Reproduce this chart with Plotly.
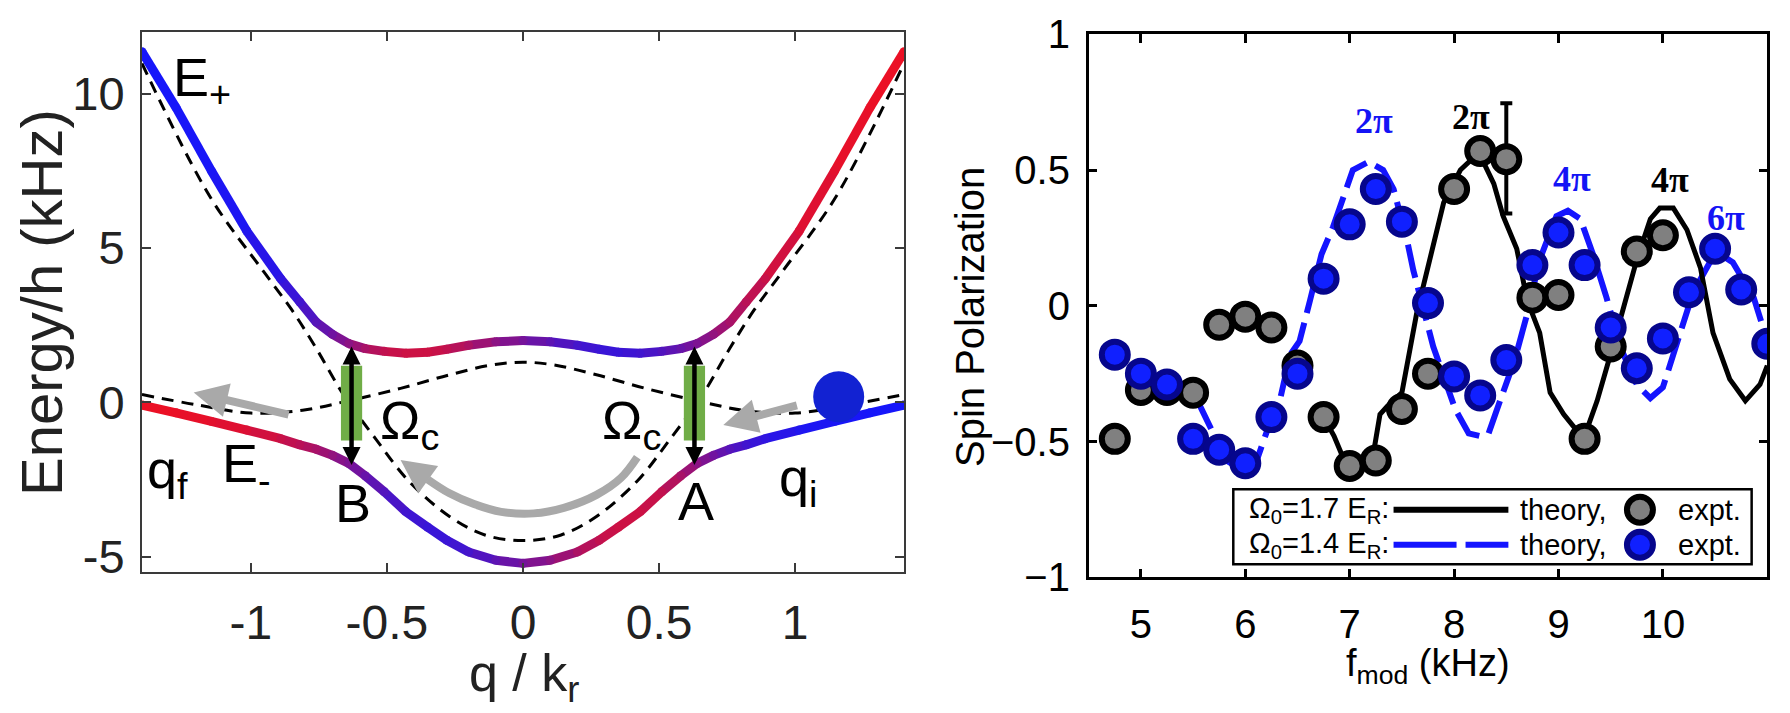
import plotly.graph_objects as go

# ---------------- Left panel: band structure ----------------
Q_BAND = [-1.40, -1.275, -1.145, -1.015, -0.89, -0.82, -0.76, -0.70, -0.64, -0.58, -0.51,
          -0.43, -0.35, -0.28, -0.20, -0.10, 0.0, 0.10, 0.20, 0.28, 0.35, 0.43, 0.51,
          0.58, 0.64, 0.70, 0.76, 0.82, 0.89, 1.015, 1.145, 1.275, 1.40]
E_PLUS = [11.36, 9.55, 7.5, 5.55, 4.0, 3.25, 2.6, 2.2, 1.9, 1.74, 1.65,
          1.59, 1.62, 1.72, 1.85, 1.96, 2.0, 1.96, 1.85, 1.72, 1.62, 1.59, 1.65,
          1.74, 1.9, 2.2, 2.6, 3.25, 4.0, 5.55, 7.5, 9.55, 11.36]
E_MINUS = [-0.09, -0.34, -0.62, -0.9, -1.18, -1.38, -1.52, -1.72, -1.98, -2.38, -2.9,
           -3.55, -4.05, -4.47, -4.85, -5.12, -5.22, -5.12, -4.85, -4.47, -4.05, -3.55, -2.9,
           -2.38, -1.98, -1.72, -1.52, -1.38, -1.18, -0.9, -0.62, -0.34, -0.09]
# fraction of "red" spin character seen in the colour of each band point
RED_PLUS = [0.0, 0.0, 0.02, 0.05, 0.12, 0.2, 0.3, 0.42, 0.55, 0.68, 0.8,
            0.85, 0.85, 0.8, 0.7, 0.55, 0.45, 0.33, 0.22, 0.17, 0.16, 0.2, 0.28,
            0.38, 0.48, 0.58, 0.68, 0.76, 0.83, 0.92, 0.96, 0.99, 1.0]
RED_MINUS = [1.0, 0.99, 0.96, 0.92, 0.83, 0.76, 0.68, 0.58, 0.48, 0.38, 0.28,
             0.2, 0.16, 0.17, 0.22, 0.33, 0.45, 0.55, 0.7, 0.8, 0.85, 0.85, 0.8,
             0.68, 0.55, 0.42, 0.3, 0.2, 0.12, 0.05, 0.02, 0.0, 0.0]

Q_DEEP = [-1.40, -1.15, -0.95, -0.85, -0.76, -0.66, -0.54, -0.42, -0.27, -0.14, 0.0,
          0.14, 0.27, 0.42, 0.54, 0.66, 0.76, 0.85, 0.95, 1.15, 1.40]
E_DEEP = [10.98, 6.66, 4.2, 3.0, 1.75, 0.25, -1.2, -2.55, -3.7, -4.3, -4.48,
          -4.3, -3.7, -2.55, -1.2, 0.25, 1.75, 3.0, 4.2, 6.66, 10.98]
Q_SHALLOW = [-1.40, -1.2, -1.0, -0.81, -0.64, -0.45, -0.27, -0.12, 0.0,
             0.12, 0.27, 0.45, 0.64, 0.81, 1.0, 1.2, 1.40]
E_SHALLOW = [0.25, -0.08, -0.35, -0.26, 0.05, 0.45, 0.89, 1.2, 1.3,
             1.2, 0.89, 0.45, 0.05, -0.26, -0.35, -0.08, 0.25]

Q_CROSS = [-0.63, 0.63]          # transition points B, A
E_TOP = [1.86, 1.86]
E_BOTTOM = [-2.03, -2.03]
CURVED_Q = [0.42, 0.36, 0.27, 0.15, 0.04, -0.08, -0.18, -0.27, -0.35]
CURVED_E = [-1.78, -2.45, -3.0, -3.42, -3.6, -3.55, -3.3, -2.95, -2.5]
BALL_Q, BALL_E = [1.16], [0.18]

# ---------------- Right panel: spin polarization ----------------
F_BLACK = [4.75, 5.0, 5.25, 5.5, 5.75, 6.0, 6.25, 6.5, 6.75, 7.0, 7.25, 7.5, 7.75,
           8.0, 8.25, 8.5, 8.75, 9.0, 9.25, 9.5, 9.75, 10.0]
P_BLACK = [-0.49, -0.31, -0.31, -0.32, -0.07, -0.04, -0.08, -0.22, -0.41, -0.59, -0.57, -0.38, -0.25,
           0.43, 0.57, 0.54, 0.03, 0.04, -0.49, -0.15, 0.2, 0.26]
F_BLUE = [4.75, 5.0, 5.25, 5.5, 5.75, 6.0, 6.25, 6.5, 6.75, 7.0, 7.25, 7.5, 7.75,
          8.0, 8.25, 8.5, 8.75, 9.0, 9.25, 9.5, 9.75, 10.0, 10.25, 10.5, 10.75, 11.0]
P_BLUE = [-0.18, -0.25, -0.29, -0.49, -0.53, -0.58, -0.41, -0.25, 0.1, 0.3, 0.43, 0.31, 0.01,
          -0.26, -0.33, -0.2, 0.15, 0.27, 0.15, -0.08, -0.23, -0.12, 0.05, 0.21, 0.06, -0.14]
ERR_F, ERR_P, ERR_SIZE = [8.5], [0.543], [0.203]

TH_BLACK_F = [6.75, 6.85, 6.97, 7.1, 7.22, 7.29, 7.36, 7.5, 7.64, 7.8, 7.9, 8.06, 8.17, 8.28,
              8.38, 8.47, 8.6, 8.7, 8.82, 8.92, 9.05, 9.24, 9.37, 9.52, 9.65, 9.75, 9.88,
              9.97, 10.1, 10.23, 10.36, 10.48, 10.64, 10.79, 10.93, 11.0]
TH_BLACK_P = [-0.41, -0.48, -0.59, -0.6, -0.56, -0.4, -0.37, -0.32, -0.03, 0.22, 0.38, 0.5, 0.54, 0.53,
              0.45, 0.33, 0.21, 0.02, -0.1, -0.32, -0.4, -0.49, -0.35, -0.15, 0.03, 0.17, 0.32,
              0.36, 0.36, 0.28, 0.14, -0.1, -0.27, -0.35, -0.29, -0.22]
TH_BLUE_F = [5.53, 5.69, 5.82, 5.99, 6.1, 6.2, 6.33, 6.43, 6.52, 6.62, 6.73, 6.84, 6.94, 7.03,
             7.18, 7.32, 7.42, 7.55, 7.61, 7.8, 8.01, 8.14, 8.25, 8.33, 8.44, 8.58, 8.7, 8.82,
             8.98, 9.09, 9.21, 9.33, 9.46, 9.59, 9.75, 9.88, 10.0, 10.13, 10.29, 10.45, 10.55,
             10.67, 10.87, 11.0]
TH_BLUE_P = [-0.34, -0.47, -0.57, -0.61, -0.58, -0.47, -0.35, -0.18, -0.13, 0.02, 0.19, 0.29, 0.4, 0.5,
             0.53, 0.5, 0.43, 0.24, 0.13, -0.15, -0.38, -0.47, -0.48, -0.47, -0.35, -0.2, -0.03, 0.17,
             0.33, 0.35, 0.32, 0.19, 0.03, -0.15, -0.29, -0.34, -0.3, -0.14, 0.05, 0.16, 0.19,
             0.16, 0.03, -0.13]

PI_LABELS = ["2π", "2π", "4π", "4π", "6π"]
PI_F = [7.23, 8.16, 9.13, 10.065, 10.6]
PI_P = [0.68, 0.694, 0.467, 0.463, 0.322]
PI_COLORS = ["#1414f5", "#000000", "#1414f5", "#000000", "#1414f5"]

LEFT_XTICKS = [-1, -0.5, 0, 0.5, 1]
LEFT_XTEXT = ["-1", "-0.5", "0", "0.5", "1"]
LEFT_YTICKS = [-5, 0, 5, 10]
LEFT_YTEXT = ["-5", "0", "5", "10"]
RIGHT_XTICKS = [5, 6, 7, 8, 9, 10]
RIGHT_XTEXT = ["5", "6", "7", "8", "9", "10"]
RIGHT_YTICKS = [-1, -0.5, 0, 0.5, 1]
RIGHT_YTEXT = ["\u22121", "\u22120.5", "0", "0.5", "1"]

SANS = "Liberation Sans, Arial, Helvetica, sans-serif"
SERIF = "Liberation Serif, Times New Roman, serif"
RED = (236, 16, 36)
BLUE = (22, 22, 250)


def mix(f):
    r = round(RED[0] * f + BLUE[0] * (1 - f))
    g = round(RED[1] * f + BLUE[1] * (1 - f))
    b = round(RED[2] * f + BLUE[2] * (1 - f))
    return f"rgb({r},{g},{b})"


fig = go.Figure()

# dashed bare bands
fig.add_trace(go.Scatter(x=Q_DEEP, y=E_DEEP, mode="lines", line=dict(color="black", width=3, dash="12px,8px", shape="spline"),
                         xaxis="x", yaxis="y", showlegend=False, hoverinfo="skip"))
fig.add_trace(go.Scatter(x=Q_SHALLOW, y=E_SHALLOW, mode="lines", line=dict(color="black", width=3, dash="12px,8px", shape="spline"),
                         xaxis="x", yaxis="y", showlegend=False, hoverinfo="skip"))

# coloured dressed bands, one short segment per pair of read points
for E, R in ((E_PLUS, RED_PLUS), (E_MINUS, RED_MINUS)):
    for i in range(len(Q_BAND) - 1):
        fig.add_trace(go.Scatter(x=Q_BAND[i:i + 2], y=E[i:i + 2], mode="lines",
                                 line=dict(color=mix((R[i] + R[i + 1]) / 2), width=9),
                                 xaxis="x", yaxis="y", showlegend=False, hoverinfo="skip"))
    fig.add_trace(go.Scatter(x=Q_BAND, y=E, mode="markers",
                             marker=dict(size=9, color=[mix(r) for r in R], line=dict(width=0)),
                             xaxis="x", yaxis="y", showlegend=False, hoverinfo="skip"))

# curved gray arrow body
fig.add_trace(go.Scatter(x=CURVED_Q, y=CURVED_E, mode="lines", line=dict(color="#a9a9a9", width=8, shape="spline"),
                         xaxis="x", yaxis="y", showlegend=False, hoverinfo="skip"))

# ball
fig.add_trace(go.Scatter(x=BALL_Q, y=BALL_E, mode="markers", marker=dict(size=51, color="#1222d2", line=dict(width=0)),
                         xaxis="x", yaxis="y", showlegend=False, hoverinfo="skip"))

# ---- right panel traces
fig.add_trace(go.Scatter(x=TH_BLUE_F, y=TH_BLUE_P, mode="lines", line=dict(color="#1414ff", width=6, dash="34px,10px"),
                         xaxis="x2", yaxis="y2", showlegend=False, hoverinfo="skip"))
fig.add_trace(go.Scatter(x=TH_BLACK_F, y=TH_BLACK_P, mode="lines", line=dict(color="black", width=5),
                         xaxis="x2", yaxis="y2", showlegend=False, hoverinfo="skip"))
fig.add_trace(go.Scatter(x=ERR_F, y=ERR_P, mode="markers", marker=dict(size=1, opacity=0),
                         error_y=dict(type="data", array=ERR_SIZE, color="black", thickness=4, width=6),
                         xaxis="x2", yaxis="y2", showlegend=False, hoverinfo="skip"))
MSIZE = 26
fig.add_trace(go.Scatter(x=F_BLACK, y=P_BLACK, mode="markers",
                         marker=dict(size=MSIZE, color="#808080", line=dict(color="black", width=6)),
                         xaxis="x2", yaxis="y2", showlegend=False, hoverinfo="skip"))
fig.add_trace(go.Scatter(x=F_BLUE, y=P_BLUE, mode="markers",
                         marker=dict(size=MSIZE, color="#1020ff", line=dict(color="#06068c", width=6)),
                         xaxis="x2", yaxis="y2", showlegend=False, hoverinfo="skip"))

# custom legend
LEG_ROWS = [-0.751, -0.880]
fig.add_trace(go.Scatter(x=[7.42, 8.52], y=[LEG_ROWS[0]] * 2, mode="lines", line=dict(color="black", width=6),
                         xaxis="x2", yaxis="y2", showlegend=False, hoverinfo="skip"))
fig.add_trace(go.Scatter(x=[7.42, 8.52], y=[LEG_ROWS[1]] * 2, mode="lines", line=dict(color="#1414ff", width=6, dash="63px,9px"),
                         xaxis="x2", yaxis="y2", showlegend=False, hoverinfo="skip"))
fig.add_trace(go.Scatter(x=[9.78], y=[LEG_ROWS[0]], mode="markers",
                         marker=dict(size=MSIZE, color="#808080", line=dict(color="black", width=6)),
                         xaxis="x2", yaxis="y2", showlegend=False, hoverinfo="skip"))
fig.add_trace(go.Scatter(x=[9.78], y=[LEG_ROWS[1]], mode="markers",
                         marker=dict(size=MSIZE, color="#1020ff", line=dict(color="#06068c", width=6)),
                         xaxis="x2", yaxis="y2", showlegend=False, hoverinfo="skip"))

shapes = []
# green coupling bars
for qc in Q_CROSS:
    shapes.append(dict(type="rect", xref="x", yref="y", x0=qc - 0.039, x1=qc + 0.039, y0=-1.24, y1=1.18,
                       fillcolor="#70ad47", line=dict(width=0), layer="above"))
shapes.append(dict(type="rect", xref="x2", yref="y2", x0=5.885, x1=10.85, y0=-0.952, y1=-0.676,
                   fillcolor="white", line=dict(color="black", width=2.5), layer="below"))

ann = []
# double arrows at A and B
for qc, et, eb in zip(Q_CROSS, E_TOP, E_BOTTOM):
    ann.append(dict(x=qc, y=eb, ax=qc, ay=et, xref="x", yref="y", axref="x", ayref="y", text="",
                    showarrow=True, arrowhead=2, startarrowhead=2, arrowside="end+start",
                    arrowsize=0.8, startarrowsize=0.8, arrowwidth=4.5, arrowcolor="black", standoff=0, startstandoff=0))
# gray arrows
ann.append(dict(x=-1.21, y=0.32, ax=-0.856, ay=-0.41, xref="x", yref="y", axref="x", ayref="y", text="",
                showarrow=True, arrowhead=2, arrowsize=0.85, arrowwidth=8, arrowcolor="#a9a9a9", standoff=0))
ann.append(dict(x=0.736, y=-0.735, ax=1.012, ay=-0.087, xref="x", yref="y", axref="x", ayref="y", text="",
                showarrow=True, arrowhead=2, arrowsize=0.85, arrowwidth=8, arrowcolor="#a9a9a9", standoff=0))
ann.append(dict(x=-0.45, y=-1.87, ax=CURVED_Q[-1], ay=CURVED_E[-1], xref="x", yref="y", axref="x", ayref="y", text="",
                showarrow=True, arrowhead=2, arrowsize=0.85, arrowwidth=8, arrowcolor="#a9a9a9", standoff=0))

LFONT = dict(family=SANS, size=54, color="black")
for txt, x, y, xa in [("E<sub>+</sub>", -1.295, 10.4, "left"), ("E<sub>-</sub>", -1.113, -2.1, "left"),
                      ("q<sub>f</sub>", -1.39, -2.3, "left"), ("q<sub>i</sub>", 0.933, -2.55, "left"),
                      ("B", -0.625, -3.26, "center"), ("A", 0.635, -3.19, "center"),
                      ("\u03a9<sub>c</sub>", -0.532, -0.7, "left"), ("\u03a9<sub>c</sub>", 0.283, -0.7, "left")]:
    ann.append(dict(x=x, y=y, xref="x", yref="y", text=txt, showarrow=False, xanchor=xa, yanchor="middle", font=LFONT))

# pi labels
for t, x, y, c in zip(PI_LABELS, PI_F, PI_P, PI_COLORS):
    ann.append(dict(x=x, y=y, xref="x2", yref="y2", text=f"<b>{t}</b>", showarrow=False,
                    font=dict(family=SERIF, size=36, color=c)))

# legend texts
LEGF = dict(family=SANS, size=29, color="black")
for row, om in zip(LEG_ROWS, ["1.7", "1.4"]):
    ann.append(dict(x=7.40, y=row, xref="x2", yref="y2", text=f"\u03a9<sub>0</sub>={om} E<sub>R</sub>:", showarrow=False,
                    xanchor="right", yanchor="middle", font=LEGF))
    ann.append(dict(x=8.61, y=row, xref="x2", yref="y2", text="theory,", showarrow=False,
                    xanchor="left", yanchor="middle", font=LEGF))
    ann.append(dict(x=10.13, y=row, xref="x2", yref="y2", text="expt.", showarrow=False,
                    xanchor="left", yanchor="middle", font=LEGF))

# axis titles
ann.append(dict(x=41 / 1790, y=1 - 303 / 713, xref="paper", yref="paper", text="Energy/h (kHz)", textangle=-90,
                xanchor="center", yanchor="middle", showarrow=False, font=dict(family=SANS, size=58, color="#222")))
ann.append(dict(x=524 / 1790, y=1 - 677 / 713, xref="paper", yref="paper", text="q / k<sub>r</sub>",
                xanchor="center", yanchor="middle", showarrow=False, font=dict(family=SANS, size=52, color="#222")))
ann.append(dict(x=970 / 1790, y=1 - 317 / 713, xref="paper", yref="paper", text="Spin Polarization", textangle=-90,
                xanchor="center", yanchor="middle", showarrow=False, font=dict(family=SANS, size=40, color="black")))
ann.append(dict(x=1428 / 1790, y=1 - 666 / 713, xref="paper", yref="paper", text="f<sub>mod</sub> (kHz)",
                xanchor="center", yanchor="middle", showarrow=False, font=dict(family=SANS, size=38, color="black")))

LAX = dict(showline=True, linecolor="#3a3a3a", linewidth=2, mirror="ticks", ticks="inside", ticklen=9,
           tickwidth=2, tickcolor="#3a3a3a", showgrid=False, zeroline=False, fixedrange=True, automargin=False)
RAX = dict(showline=True, linecolor="black", linewidth=2.5, mirror="ticks", ticks="inside", ticklen=9,
           tickwidth=2.5, tickcolor="black", showgrid=False, zeroline=False, fixedrange=True, automargin=False)

fig.update_layout(
    width=1790, height=713, margin=dict(l=0, r=0, t=0, b=0, autoexpand=False),
    paper_bgcolor="white", plot_bgcolor="white", showlegend=False,
    xaxis=dict(domain=[142 / 1790, 904 / 1790], range=[-1.4, 1.4], tickvals=LEFT_XTICKS, ticktext=LEFT_XTEXT,
               tickfont=dict(family=SANS, size=48, color="#222"), ticklabelstandoff=7, anchor="y", **LAX),
    yaxis=dict(domain=[1 - 572 / 713, 1 - 32 / 713], range=[-5.5, 12], tickvals=LEFT_YTICKS, ticktext=LEFT_YTEXT,
               tickfont=dict(family=SANS, size=47, color="#222"), ticklabelstandoff=6, anchor="x", **LAX),
    xaxis2=dict(domain=[1088.7 / 1790, 1767.3 / 1790], range=[4.5, 11], tickvals=RIGHT_XTICKS, ticktext=RIGHT_XTEXT,
                tickfont=dict(family=SANS, size=40, color="black"), ticklabelstandoff=10, anchor="y2", **RAX),
    yaxis2=dict(domain=[1 - 577.3 / 713, 1 - 34.3 / 713], range=[-1, 1], tickvals=RIGHT_YTICKS, ticktext=RIGHT_YTEXT,
                tickfont=dict(family=SANS, size=40, color="black"), ticklabelstandoff=8, anchor="x2", **RAX),
    shapes=shapes, annotations=ann,
)

fig.write_html("out.html", config={"displayModeBar": False},
               post_script="document.body.style.margin='0';document.body.style.overflow='hidden';")
